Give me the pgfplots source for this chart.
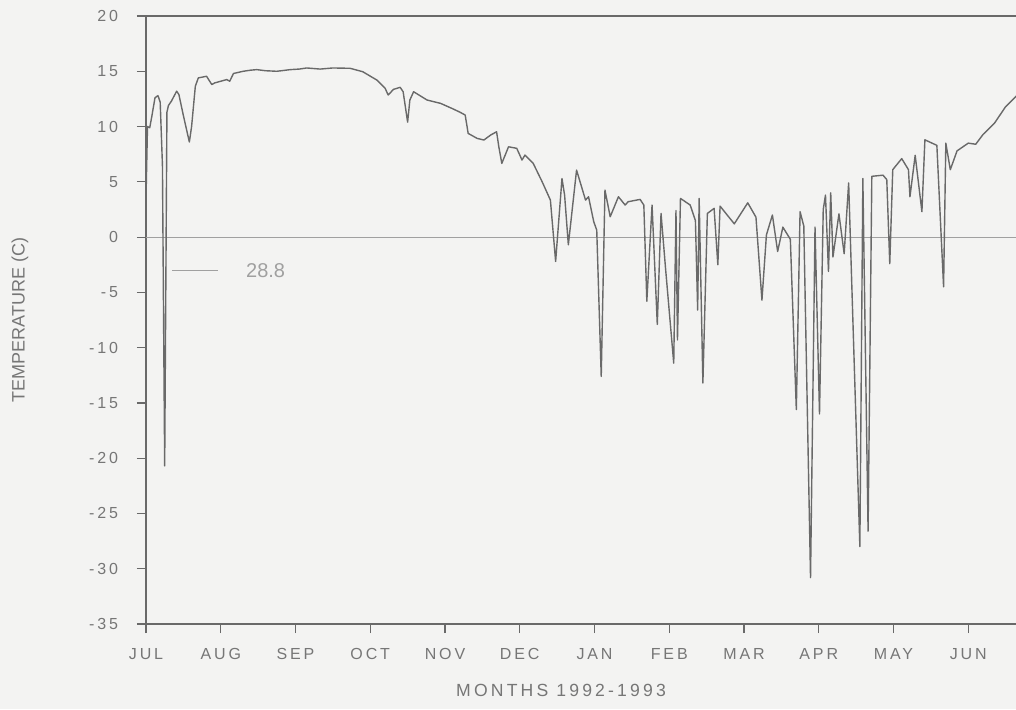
\documentclass[border=0pt]{standalone}
\usepackage{fontspec}
\setmainfont{Liberation Sans}
\newfontfamily\tickf[LetterSpace=18]{Liberation Sans}
\usepackage{pgfplots}
\pgfplotsset{compat=1.18}
\definecolor{bg}{RGB}{243,243,242}
\definecolor{ink}{RGB}{105,105,105}
\definecolor{txt}{RGB}{118,118,118}
\definecolor{zer}{RGB}{160,160,160}
\pgfplotstableread{
m v
0.00 3.5
0.02 10.0
0.05 9.9
0.08 11.0
0.12 12.6
0.16 12.8
0.19 12.2
0.22 6.5
0.25 -20.7
0.28 11.3
0.30 11.9
0.34 12.3
0.41 13.2
0.44 12.9
0.50 11.0
0.58 8.6
0.61 10.0
0.66 13.65
0.70 14.4
0.81 14.55
0.88 13.8
0.92 13.95
1.00 14.1
1.08 14.25
1.12 14.1
1.17 14.8
1.30 15.0
1.40 15.1
1.48 15.15
1.60 15.05
1.75 15.0
1.93 15.15
2.05 15.2
2.15 15.3
2.33 15.2
2.50 15.3
2.73 15.27
2.90 14.96
3.09 14.2
3.20 13.45
3.24 12.85
3.31 13.36
3.40 13.55
3.44 13.15
3.50 10.4
3.53 12.4
3.58 13.15
3.76 12.4
3.94 12.1
4.09 11.65
4.20 11.3
4.27 11.04
4.31 9.38
4.43 8.93
4.52 8.78
4.61 9.23
4.69 9.53
4.72 8.17
4.76 6.67
4.85 8.17
4.96 8.03
5.03 6.97
5.07 7.42
5.18 6.67
5.30 5.0
5.41 3.35
5.48 -2.2
5.565 5.3
5.60 3.8
5.65 -0.7
5.76 6.06
5.88 3.35
5.92 3.65
5.99 1.39
6.03 0.63
6.09 -12.6
6.14 4.25
6.21 1.84
6.32 3.65
6.41 2.9
6.45 3.2
6.61 3.41
6.66 2.9
6.70 -5.8
6.77 2.9
6.84 -7.9
6.89 2.14
6.95 -2.8
7.06 -11.4
7.09 2.4
7.11 -9.3
7.15 3.5
7.28 2.9
7.35 1.5
7.38 -6.6
7.40 3.5
7.45 -13.2
7.51 2.14
7.60 2.6
7.65 -2.5
7.68 2.8
7.87 1.2
8.05 3.1
8.16 1.8
8.24 -5.7
8.30 0.2
8.38 2.0
8.45 -1.3
8.52 0.9
8.62 -0.2
8.70 -15.6
8.75 2.3
8.80 1.0
8.89 -30.8
8.95 0.9
9.01 -16.0
9.06 2.5
9.09 3.8
9.13 -3.1
9.16 4.0
9.19 -1.8
9.27 2.1
9.34 -1.5
9.40 4.9
9.55 -28.0
9.59 5.3
9.66 -26.6
9.71 5.5
9.86 5.6
9.91 5.2
9.95 -2.4
9.99 6.1
10.11 7.1
10.20 6.1
10.22 3.65
10.29 7.4
10.38 2.3
10.42 8.8
10.58 8.3
10.67 -4.5
10.70 8.5
10.76 6.1
10.85 7.8
11.00 8.5
11.10 8.4
11.20 9.3
11.35 10.3
11.50 11.8
11.65 12.8
11.80 13.3
}\temps
\begin{document}
\begin{tikzpicture}
\useasboundingbox (-73pt,-42.5pt) rectangle (435pt,312pt);
\fill[bg] (-73pt,-42.5pt) rectangle (435pt,312pt);
\clip (-73pt,-42.5pt) rectangle (435pt,312pt);
\begin{axis}[
  at={(0pt,0pt)}, anchor=south west,
  scale only axis, width=448.5pt, height=304pt,
  xmin=0, xmax=12, ymin=-35, ymax=20,
  axis line style={ink, line width=0.8pt},
  tick pos=left, tick align=outside, major tick length=4.5pt,
  tick style={ink, line width=0.6pt},
  xtick={0,1,2,3,4,5,6,7,8,9,10,11},
  xticklabels={JUL,AUG,SEP,OCT,NOV,DEC,JAN,FEB,MAR,APR,MAY,JUN},
  ytick={-35,-30,-25,-20,-15,-10,-5,0,5,10,15,20},
  yticklabels={-35,-30,-25,-20,-15,-10,-5,0,5,10,15,20},
  ticklabel style={font=\tickf\fontsize{8}{9}\selectfont, text=txt},
  yticklabel shift=6pt, xticklabel shift=4pt,
  ylabel={TEMPERATURE (C)},
  ylabel style={at={(axis description cs:-0.1405,0.5)}, anchor=center, font=\fontsize{9}{10}\selectfont, text=txt},
  xlabel={MONTHS 1992-1993},
  xlabel style={at={(axis description cs:0.4627,-0.110)}, anchor=center, font=\tickf\fontsize{8.8}{10}\selectfont, text=txt},
]
\addplot[zer, line width=0.6pt] coordinates {(0,0) (12,0)};
\addplot[ink, line width=0.7pt, line join=round] table[x=m, y=v] {\temps};
\addplot[zer, line width=0.6pt] coordinates {(0.35,-3) (0.96,-3)};
\node[text=zer, font=\fontsize{10}{11}\selectfont] at (axis cs:1.6,-3) {28.8};
\end{axis}
\end{tikzpicture}
\end{document}
